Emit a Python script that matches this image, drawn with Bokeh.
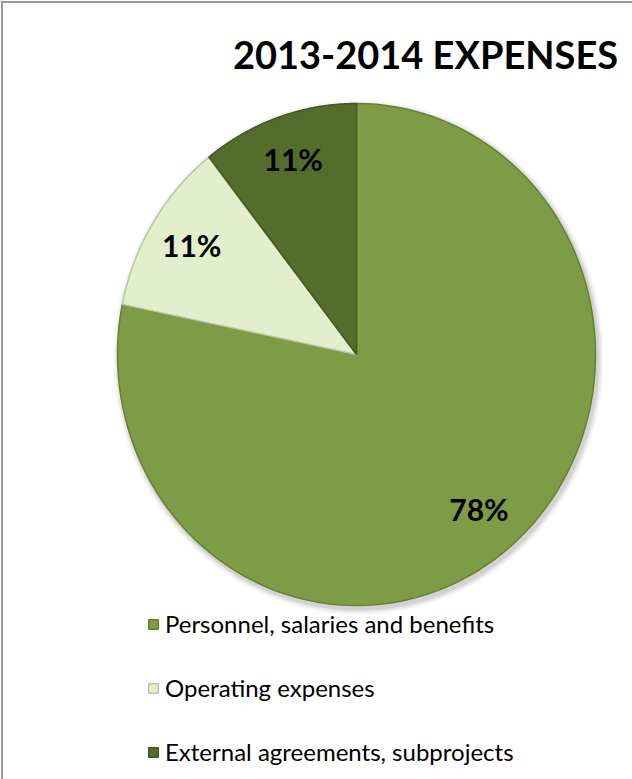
import numpy as np
from bokeh.plotting import figure
from bokeh.models import Range1d, Legend, LegendItem, Span, ColumnDataSource
from bokeh.core.properties import value
from bokeh.embed import file_html
from bokeh.resources import INLINE

# ---- data ----
title_text = "2013-2014 EXPENSES"
categories = ["Personnel, salaries and benefits", "Operating expenses", "External agreements, subprojects"]
shares = [78.2, 11.2, 10.6]
colors = ["#7E9C45", "#E2EECC", "#546D2D"]
edge_colors = ["#66802F", "#B9C8A0", "#435724"]

W, H = 632, 779
CX, CY = 356, 354
RX, RY = 239, 251
FONT = "Lato"

p = figure(width=W, height=H, x_range=Range1d(0, W), y_range=Range1d(H, 0),
           output_backend="svg", toolbar_location=None, min_border=0)
p.axis.visible = False
p.grid.visible = False
p.outline_line_color = None
p.background_fill_color = "white"
p.border_fill_color = "white"

# frame lines (top / left)
p.add_layout(Span(location=1.5, dimension="width", line_color="#9a9a9a", line_width=2))
p.add_layout(Span(location=1.5, dimension="height", line_color="#9a9a9a", line_width=2))

# soft shadow
t = np.linspace(0, 2 * np.pi, 240)
for k, a in zip([6, 4, 2], [0.05, 0.08, 0.12]):
    p.patch(CX + 2 + (RX + k) * np.sin(t), CY + 3 + (RY + k) * -np.cos(t),
            fill_color="#404040", fill_alpha=a, line_color=None)

# slices, clockwise from 12 o'clock
frac = np.array(shares) / sum(shares)
ends = np.cumsum(frac)
starts = ends - frac
items = []
for i, cat in enumerate(categories):
    ang = np.linspace(starts[i], ends[i], 120) * 2 * np.pi
    xs = np.concatenate([[CX], CX + RX * np.sin(ang), [CX]])
    ys = np.concatenate([[CY], CY - RY * np.cos(ang), [CY]])
    r = p.patch(xs, ys, fill_color=colors[i], line_color=edge_colors[i], line_width=1.5)
    items.append(LegendItem(label=cat, renderers=[r]))

# data labels
mid = (starts + ends) / 2 * 2 * np.pi
lab = ColumnDataSource(dict(
    x=CX + 0.81 * RX * np.sin(mid),
    y=CY - 0.81 * RY * np.cos(mid) - 3,
    t=["%d%%" % round(s) for s in shares],
))
p.text(x="x", y="y", text="t", source=lab, text_font=value(FONT), text_font_style="bold",
       text_font_size="30px", text_align="center", text_baseline="middle", text_color="black")

# title
p.text(x=[425], y=[53], text=[title_text], text_font=value(FONT), text_font_style="bold",
       text_font_size="38px", text_align="center", text_baseline="middle", text_color="black")

legend = Legend(items=items, location=(147, 13), orientation="vertical",
                glyph_width=12, glyph_height=12, label_height=24, spacing=35,
                label_text_font=FONT, label_text_font_size="24px", label_standoff=6,
                label_text_color="black",
                padding=0, margin=0, background_fill_alpha=0, border_line_color=None)
p.add_layout(legend, "center")

open("out.html", "w").write(file_html(p, INLINE))
